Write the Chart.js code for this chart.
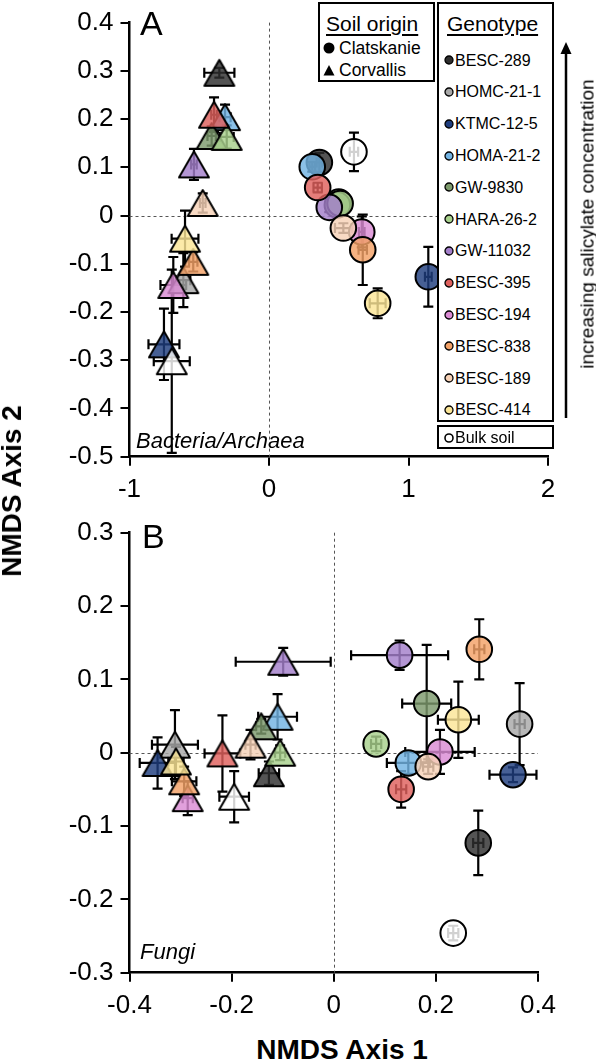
<!DOCTYPE html>
<html>
<head>
<meta charset="utf-8">
<script src="https://cdn.jsdelivr.net/npm/chart.js@4.4.1/dist/chart.umd.min.js"></script>
<style>
  html, body { margin: 0; padding: 0; background: #fff; }
  body { width: 596px; height: 1063px; position: relative; overflow: hidden; font-family: "Liberation Sans", Arial, sans-serif; color: #000; }
  canvas { position: absolute; left: 0; }
  #chartA { top: 0; }
  #chartB { top: 500px; }
  .txt { position: absolute; white-space: nowrap; line-height: 1; }
  .box { position: absolute; border: 2px solid #000; background: #fff; box-sizing: border-box; }
  .title { text-decoration: underline; text-underline-offset: 3px; text-decoration-thickness: 1.5px; }
  .axisTitle { font-weight: bold; font-size: 28px; }
  .panel { font-size: 34px; }
  .tag { font-style: italic; font-size: 22px; }
  .item { position: absolute; left: 0; font-size: 16px; white-space: nowrap; line-height: 1; }
  .item svg { vertical-align: middle; margin-right: 1px; position: relative; top: -1px; }
  #soilBox .item svg { margin-right: 4px; }
</style>
</head>
<body>
<canvas id="chartA" width="596" height="500"></canvas>
<canvas id="chartB" width="596" height="520"></canvas>

<div class="txt panel" style="left:140px; top:6px;">A</div>
<div class="txt panel" style="left:142px; top:519px;">B</div>
<div class="txt tag" style="left:136px; top:430px;">Bacteria/Archaea</div>
<div class="txt tag" style="left:140px; top:941px;">Fungi</div>

<div class="txt axisTitle" style="left:12px; top:491px; transform: translate(-50%, -50%) rotate(-90deg);">NMDS Axis 2</div>
<div class="txt axisTitle" style="left:342px; top:1050px; transform: translate(-50%, -50%);">NMDS Axis 1</div>

<div class="box" id="soilBox" style="left:318px; top:2px; width:117px; height:80px;">
  <div class="txt title" style="left:6px; top:9px; font-size:21px;">Soil origin</div>
  <div class="item" style="left:3px; top:36px; font-size:17.5px;"><svg width="12" height="12"><circle cx="6" cy="6" r="5.5" fill="#000"/></svg>Clatskanie</div>
  <div class="item" style="left:3px; top:58px; font-size:17.5px;"><svg width="12" height="12"><polygon points="0.5,11.5 6,1 11.5,11.5" fill="#000"/></svg>Corvallis</div>
</div>

<div class="box" id="genoBox" style="left:437px; top:2px; width:117px; height:420px;">
  <div class="txt title" style="left:8px; top:9px; font-size:21px;">Genotype</div>
</div>
<div class="box" id="bulkBox" style="left:437px; top:425px; width:117px; height:24px;"></div>

<svg style="position:absolute; left:558px; top:40px;" width="16" height="380">
  <line x1="8" y1="10" x2="8" y2="378" stroke="#000" stroke-width="2.5"/>
  <polygon points="2.5,14 8,2 13.5,14" fill="#000"/>
</svg>
<div class="txt" style="left:587px; top:224px; font-size:19px; transform: translate(-50%, -50%) rotate(-90deg);">increasing salicylate concentration</div>

<script>
// genotypes in legend order; last entry is the bulk soil control
var genotypes = ['BESC-289', 'HOMC-21-1', 'KTMC-12-5', 'HOMA-21-2', 'GW-9830', 'HARA-26-2', 'GW-11032',
  'BESC-395', 'BESC-194', 'BESC-838', 'BESC-189', 'BESC-414', 'Bulk soil'];
var genotypeColors = ['#2e2e2e', '#a8a8a8', '#1e3d7e', '#72b3e3', '#7d9a6c', '#a8d18c', '#a47fcb',
  '#df605d', '#db8bd4', '#f3a166', '#f7d2b7', '#fbe596', '#ffffff'];

// Panel A - Bacteria/Archaea
var aXTicks = [-1, 0, 1, 2];
var aYTicks = [-0.5, -0.4, -0.3, -0.2, -0.1, 0, 0.1, 0.2, 0.3, 0.4];
var aCorvX = [-0.356, -0.614, -0.753, -0.315, -0.411, -0.303, -0.538, -0.394, -0.686, -0.543, -0.475, -0.602, -0.697];
var aCorvY = [0.296, -0.134, -0.267, 0.204, 0.165, 0.163, 0.106, 0.209, -0.144, -0.096, 0.026, -0.048, -0.302];
var aCorvXErr = [0.108, 0.05, 0.111, 0.04, 0.03, 0.05, 0.02, 0.02, 0.092, 0.03, 0.02, 0.096, 0.129];
var aCorvYErr = [0.01, 0.056, 0.074, 0.026, 0.02, 0.024, 0.032, 0.036, 0.058, 0.02, 0.02, 0.058, 0.19];
var aClatX = [0.361, 0.50, 1.142, 0.310, 0.49, 0.51, 0.432, 0.349, 0.665, 0.672, 0.533, 0.779, 0.609];
var aClatY = [0.110, 0.028, -0.127, 0.101, 0.022, 0.025, 0.017, 0.058, -0.034, -0.071, -0.026, -0.182, 0.132];
var aClatXErr = [0.02, 0.02, 0.024, 0.02, 0.02, 0.02, 0.02, 0.03, 0.02, 0.03, 0.06, 0.057, 0.03];
var aClatYErr = [0.02, 0.01, 0.062, 0.01, 0.01, 0.01, 0.01, 0.01, 0.032, 0.073, 0.01, 0.031, 0.04];

// Panel B - Fungi
var bXTicks = [-0.4, -0.2, 0, 0.2, 0.4];
var bYTicks = [-0.3, -0.2, -0.1, 0, 0.1, 0.2, 0.3];
var bCorvX = [-0.127, -0.311, -0.345, -0.110, -0.142, -0.105, -0.099, -0.218, -0.286, -0.293, -0.163, -0.309, -0.195];
var bCorvY = [-0.028, 0.011, -0.014, 0.049, 0.036, 0.0, 0.124, -0.001, -0.062, -0.039, 0.011, -0.012, -0.060];
var bCorvXErr = [0.02, 0.045, 0.035, 0.038, 0.01, 0.01, 0.093, 0.035, 0.01, 0.024, 0.01, 0.015, 0.029];
var bCorvYErr = [0.016, 0.047, 0.035, 0.031, 0.01, 0.01, 0.019, 0.052, 0.023, 0.02, 0.02, 0.02, 0.035];
var bClatX = [0.283, 0.364, 0.351, 0.146, 0.182, 0.083, 0.129, 0.132, 0.208, 0.285, 0.185, 0.244, 0.234];
var bClatY = [-0.123, 0.039, -0.030, -0.014, 0.067, 0.012, 0.133, -0.050, 0.001, 0.141, -0.019, 0.045, -0.246];
var bClatXErr = [0.01, 0.01, 0.046, 0.042, 0.048, 0.01, 0.095, 0.01, 0.068, 0.01, 0.01, 0.040, 0.01];
var bClatYErr = [0.044, 0.056, 0.01, 0.015, 0.080, 0.01, 0.02, 0.025, 0.03, 0.041, 0.01, 0.052, 0.01];

function rgba(hex, a) {
  var n = parseInt(hex.slice(1), 16);
  return 'rgba(' + (n >> 16) + ',' + ((n >> 8) & 255) + ',' + (n & 255) + ',' + a + ')';
}

// triangle marker centred on its bounding box, like the spreadsheet markers
function triangleImage(color) {
  var side = 30, h = Math.round(side * 0.87), pad = 3;
  var c = document.createElement('canvas');
  c.width = side + pad * 2;
  c.height = h + pad * 2;
  var g = c.getContext('2d');
  g.beginPath();
  g.moveTo(pad, pad + h);
  g.lineTo(pad + side / 2, pad);
  g.lineTo(pad + side, pad + h);
  g.closePath();
  g.fillStyle = color;
  g.fill();
  g.lineWidth = 2;
  g.lineJoin = 'round';
  g.strokeStyle = '#000';
  g.stroke();
  return c;
}

function points(xs, ys) {
  return xs.map(function (x, i) { return { x: x, y: ys[i] }; });
}

var fills = genotypeColors.map(function (c) { return rgba(c, 0.82); });
var triangles = fills.map(triangleImage);

var zeroLinesAndErrors = {
  id: 'zeroLinesAndErrors',
  beforeDatasetsDraw: function (chart) {
    var ctx = chart.ctx, area = chart.chartArea, xs = chart.scales.x, ys = chart.scales.y;
    ctx.save();
    ctx.strokeStyle = '#555';
    ctx.lineWidth = 1;
    ctx.setLineDash([3, 3]);
    var x0 = Math.round(xs.getPixelForValue(0)) + 0.5, y0 = Math.round(ys.getPixelForValue(0)) + 0.5;
    ctx.beginPath();
    ctx.moveTo(x0, area.top);
    ctx.lineTo(x0, area.bottom);
    ctx.moveTo(area.left, y0);
    ctx.lineTo(area.right, y0);
    ctx.stroke();
    ctx.setLineDash([]);
    ctx.strokeStyle = '#000';
    ctx.lineWidth = 2.2;
    var cap = 5;
    chart.data.datasets.forEach(function (ds) {
      ds.data.forEach(function (p, i) {
        var px = xs.getPixelForValue(p.x), py = ys.getPixelForValue(p.y);
        var xl = xs.getPixelForValue(p.x - ds.xErr[i]), xr = xs.getPixelForValue(p.x + ds.xErr[i]);
        var yt = ys.getPixelForValue(p.y + ds.yErr[i]), yb = ys.getPixelForValue(p.y - ds.yErr[i]);
        ctx.beginPath();
        ctx.moveTo(xl, py); ctx.lineTo(xr, py);
        ctx.moveTo(xl, py - cap); ctx.lineTo(xl, py + cap);
        ctx.moveTo(xr, py - cap); ctx.lineTo(xr, py + cap);
        ctx.moveTo(px, yt); ctx.lineTo(px, yb);
        ctx.moveTo(px - cap, yt); ctx.lineTo(px + cap, yt);
        ctx.moveTo(px - cap, yb); ctx.lineTo(px + cap, yb);
        ctx.stroke();
      });
    });
    ctx.restore();
  }
};

function axis(ticks, fitFn, pad) {
  return {
    type: 'linear',
    min: ticks[0],
    max: ticks[ticks.length - 1],
    afterBuildTicks: function (s) { s.ticks = ticks.map(function (v) { return { value: v }; }); },
    afterFit: fitFn,
    border: { display: true, color: '#000', width: 2.5 },
    grid: { drawOnChartArea: false, drawTicks: true, tickLength: 9, color: '#000', lineWidth: 2 },
    ticks: {
      color: '#000',
      padding: pad,
      font: { family: 'Liberation Sans', size: 26 },
      callback: function (v) { return String(v); }
    }
  };
}

function makePanel(id, corv, clat, xTicks, yTicks, pad, xHeight) {
  return new Chart(document.getElementById(id).getContext('2d'), {
    type: 'scatter',
    data: {
      datasets: [{
        label: 'Corvallis',
        data: points(corv[0], corv[1]),
        xErr: corv[2],
        yErr: corv[3],
        pointStyle: triangles,
        pointRadius: 14,
        clip: false
      }, {
        label: 'Clatskanie',
        data: points(clat[0], clat[1]),
        xErr: clat[2],
        yErr: clat[3],
        pointStyle: 'circle',
        pointRadius: 12.8,
        pointBackgroundColor: fills,
        pointBorderColor: '#000',
        pointBorderWidth: 2,
        clip: false
      }]
    },
    options: {
      responsive: false,
      animation: false,
      devicePixelRatio: 1,
      layout: { padding: pad },
      plugins: { legend: { display: false }, tooltip: { enabled: false } },
      scales: {
        x: axis(xTicks, function (s) { s.height = xHeight; }, 9),
        y: axis(yTicks, function (s) { s.width = 129.5; }, 7)
      }
    },
    plugins: [zeroLinesAndErrors]
  });
}

makePanel('chartA', [aCorvX, aCorvY, aCorvXErr, aCorvYErr], [aClatX, aClatY, aClatXErr, aClatYErr],
  aXTicks, aYTicks, { top: 18.6, right: 48, left: 0, bottom: 0 }, 43.3);
makePanel('chartB', [bCorvX, bCorvY, bCorvXErr, bCorvYErr], [bClatX, bClatY, bClatXErr, bClatYErr],
  bXTicks, bYTicks, { top: 32.7, right: 58, left: 0, bottom: 0 }, 47.3);

// genotype legend
var genoBox = document.getElementById('genoBox');
genotypes.slice(0, 12).forEach(function (name, i) {
  var el = document.createElement('div');
  el.className = 'item';
  el.style.left = '5px';
  el.style.top = (48.5 + i * 31.8) + 'px';
  el.innerHTML = '<svg width="10" height="10"><circle cx="5" cy="5" r="4" fill="' + genotypeColors[i] +
    '" stroke="#000" stroke-width="1.3"/></svg>' + name;
  genoBox.appendChild(el);
});
var bulk = document.createElement('div');
bulk.className = 'item';
bulk.style.left = '5px';
bulk.style.top = '3px';
bulk.innerHTML = '<svg width="10" height="10"><circle cx="5" cy="5" r="4" fill="#fff" stroke="#000" stroke-width="1.6"/></svg>' + genotypes[12];
document.getElementById('bulkBox').appendChild(bulk);
</script>
</body>
</html>
